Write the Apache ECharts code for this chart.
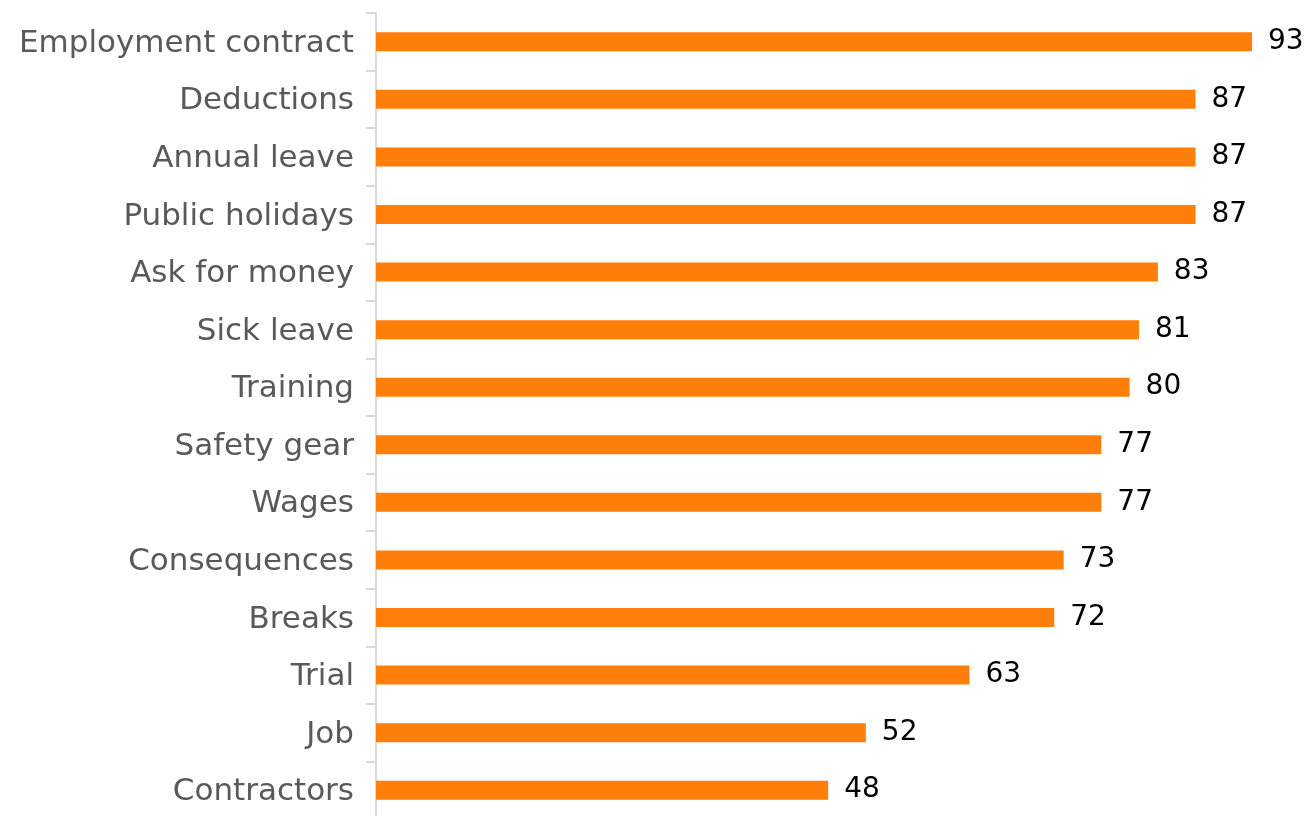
<!DOCTYPE html>
<html>
<head>
<meta charset="utf-8">
<style>
  html, body { margin: 0; padding: 0; background: #ffffff; }
  #chart { width: 1307px; height: 816px; }
</style>
<script src="https://cdn.jsdelivr.net/npm/echarts@6/dist/echarts.min.js"></script>
</head>
<body>
<div id="chart"></div>
<script>
// Topics, listed top to bottom, with their share (%)
const categories = [
  'Employment contract', 'Deductions', 'Annual leave', 'Public holidays',
  'Ask for money', 'Sick leave', 'Training', 'Safety gear', 'Wages',
  'Consequences', 'Breaks', 'Trial', 'Job', 'Contractors'
];
const values = [93, 87, 87, 87, 83, 81, 80, 77, 77, 73, 72, 63, 52, 48];

const chart = echarts.init(document.getElementById('chart'), null, { renderer: 'canvas' });
const fontFamily = '"DejaVu Sans", sans-serif';

chart.setOption({
  animation: false,
  backgroundColor: '#ffffff',
  grid: {
    left: 376, top: 13, width: 942, height: 806,
    containLabel: false, outerBoundsMode: 'none'
  },
  xAxis: {
    type: 'value', min: 0, max: 100, show: false
  },
  yAxis: {
    type: 'category',
    data: categories,
    inverse: true,
    axisLine: { show: true, lineStyle: { color: '#d9d9d9', width: 2 } },
    axisTick: { show: true, length: 10, lineStyle: { color: '#d9d9d9', width: 2 } },
    axisLabel: {
      margin: 22,
      formatter: function (v) { return '{t|' + v + '}'; },
      rich: {
        t: {
          color: '#595959', fontSize: 31, fontFamily: fontFamily,
          padding: [4, 0, 0, 0]
        }
      }
    },
    splitLine: { show: false }
  },
  series: [{
    type: 'bar',
    data: values,
    barWidth: 19,
    itemStyle: { color: '#ff7f0a' },
    label: {
      show: true, position: 'right', distance: 16,
      color: '#000000', fontSize: 28, fontFamily: fontFamily
    }
  }]
});
</script>
</body>
</html>
